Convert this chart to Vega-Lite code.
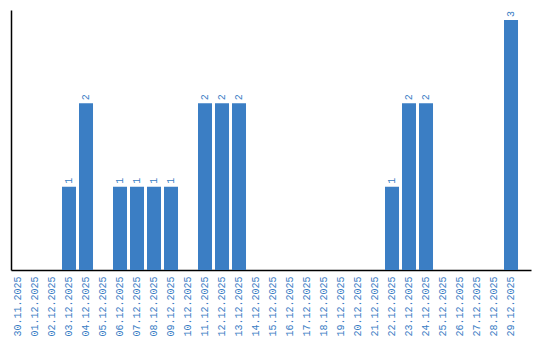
{
  "$schema": "https://vega.github.io/schema/vega-lite/v6.json",
  "autosize": {"type": "none"},
  "width": 520,
  "height": 260,
  "padding": {"left": 11, "top": 10, "right": 9, "bottom": 70},
  "background": "white",
  "config": {"view": {"stroke": null}},
  "data": {"values": [
    {"date": "30.11.2025", "count": 0},
    {"date": "01.12.2025", "count": 0},
    {"date": "02.12.2025", "count": 0},
    {"date": "03.12.2025", "count": 1},
    {"date": "04.12.2025", "count": 2},
    {"date": "05.12.2025", "count": 0},
    {"date": "06.12.2025", "count": 1},
    {"date": "07.12.2025", "count": 1},
    {"date": "08.12.2025", "count": 1},
    {"date": "09.12.2025", "count": 1},
    {"date": "10.12.2025", "count": 0},
    {"date": "11.12.2025", "count": 2},
    {"date": "12.12.2025", "count": 2},
    {"date": "13.12.2025", "count": 2},
    {"date": "14.12.2025", "count": 0},
    {"date": "15.12.2025", "count": 0},
    {"date": "16.12.2025", "count": 0},
    {"date": "17.12.2025", "count": 0},
    {"date": "18.12.2025", "count": 0},
    {"date": "19.12.2025", "count": 0},
    {"date": "20.12.2025", "count": 0},
    {"date": "21.12.2025", "count": 0},
    {"date": "22.12.2025", "count": 1},
    {"date": "23.12.2025", "count": 2},
    {"date": "24.12.2025", "count": 2},
    {"date": "25.12.2025", "count": 0},
    {"date": "26.12.2025", "count": 0},
    {"date": "27.12.2025", "count": 0},
    {"date": "28.12.2025", "count": 0},
    {"date": "29.12.2025", "count": 3}
  ]},
  "encoding": {
    "x": {
      "field": "date", "type": "ordinal", "sort": null,
      "scale": {"paddingInner": 0.176, "paddingOuter": 0.382, "align": 0},
      "axis": {"title": null, "ticks": false, "labelAngle": -90, "labelPadding": 6,
               "labelFont": "Liberation Mono", "labelFontSize": 10, "labelColor": "#3a7dc4",
               "domainColor": "#000000", "domainWidth": 1.5}
    },
    "y": {
      "field": "count", "type": "quantitative",
      "scale": {"domain": [0, 3.12], "nice": false},
      "axis": {"title": null, "ticks": false, "labels": false, "grid": false,
               "domainColor": "#000000", "domainWidth": 1.5}
    }
  },
  "layer": [
    {"mark": {"type": "bar", "color": "#3b7ec4"}},
    {
      "transform": [{"filter": "datum.count > 0"}],
      "mark": {"type": "text", "angle": -90, "align": "left", "baseline": "middle", "dx": 3,
               "font": "Liberation Mono", "fontSize": 10, "color": "#3a7dc4"},
      "encoding": {"text": {"field": "count", "type": "quantitative"}}
    }
  ]
}
